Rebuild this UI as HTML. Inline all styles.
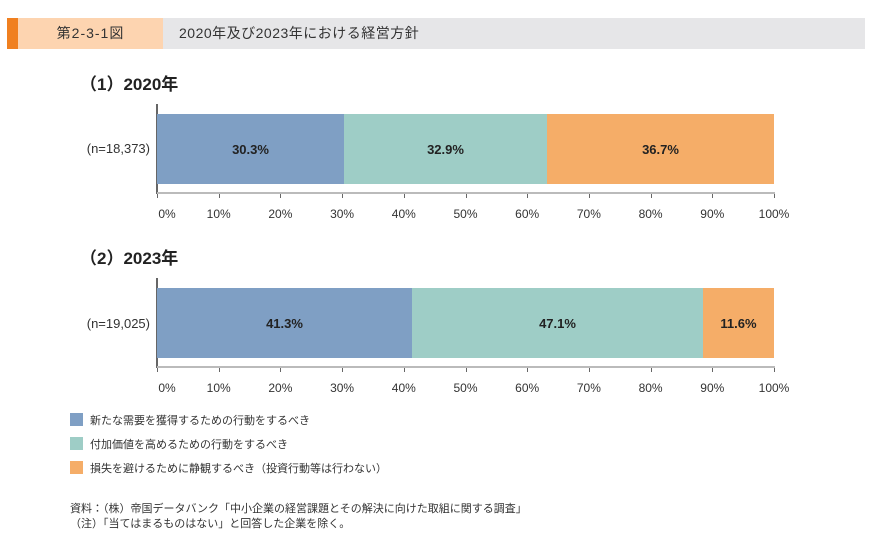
<!DOCTYPE html><html><head><meta charset="utf-8"><style>
body{margin:0;width:876px;height:553px;background:#fff;position:relative;font-family:"Liberation Sans","Noto Sans CJK JP",sans-serif;overflow:hidden}
.a{position:absolute}
.bar{position:absolute;height:70px;display:flex;align-items:center;justify-content:center;font-weight:bold;font-size:13px;color:#222}
.t{position:absolute;font-size:12px;color:#333;transform:translateX(-50%)}
.tk{position:absolute;width:1px;height:4px;background:#666}
.n{position:absolute;right:726px;font-size:13px;color:#333}
</style></head><body>
<div class="a" style="left:7px;top:18px;width:11px;height:31px;background:#f08020"></div>
<div class="a" style="left:18px;top:18px;width:145px;height:31px;background:#fdd4b0;font-size:14px;line-height:31px;text-align:center;color:#333;letter-spacing:1px">第2-3-1図</div>
<div class="a" style="left:163px;top:18px;width:702px;height:31px;background:#e6e6e8;font-size:14px;line-height:31px;color:#333;padding-left:16px;box-sizing:border-box;letter-spacing:0.5px">2020年及び2023年における経営方針</div>

<div class="a" style="left:80px;top:70px;font-size:17px;font-weight:bold;color:#222">（1）2020年</div>
<div class="n" style="top:141px">(n=18,373)</div>
<div class="a" style="left:156px;top:104px;width:2px;height:90px;background:#666"></div>
<div class="bar" style="left:157px;top:114px;width:187px;background:#7f9fc4">30.3%</div>
<div class="bar" style="left:344px;top:114px;width:203px;background:#9ecdc6">32.9%</div>
<div class="bar" style="left:547px;top:114px;width:227px;background:#f5ad68">36.7%</div>
<div class="a" style="left:157px;top:192px;width:618px;height:2px;background:#bbb"></div>

<div class="a" style="left:80px;top:244px;font-size:17px;font-weight:bold;color:#222">（2）2023年</div>
<div class="n" style="top:316px">(n=19,025)</div>
<div class="a" style="left:156px;top:278px;width:2px;height:90px;background:#666"></div>
<div class="bar" style="left:157px;top:288px;width:255px;background:#7f9fc4">41.3%</div>
<div class="bar" style="left:412px;top:288px;width:291px;background:#9ecdc6">47.1%</div>
<div class="bar" style="left:703px;top:288px;width:71px;background:#f5ad68">11.6%</div>
<div class="a" style="left:157px;top:366px;width:618px;height:2px;background:#bbb"></div>

<div id="ax"></div>
<script>
var h='';for(var k=0;k<2;k++){var y=k?368:194;for(var i=0;i<=10;i++){var x=157+i*61.7;h+='<div class="tk" style="left:'+x+'px;top:'+y+'px"></div><div class="t" style="left:'+(x+(i==0?10:0))+'px;top:'+(y+13)+'px">'+(i*10)+'%</div>';}}
document.getElementById('ax').innerHTML=h;
</script>

<div class="a" style="left:70px;top:413px;width:13px;height:13px;background:#7f9fc4"></div>
<div class="a" style="left:90px;top:412px;font-size:11px;color:#333">新たな需要を獲得するための行動をするべき</div>
<div class="a" style="left:70px;top:437px;width:13px;height:13px;background:#9ecdc6"></div>
<div class="a" style="left:90px;top:436px;font-size:11px;color:#333">付加価値を高めるための行動をするべき</div>
<div class="a" style="left:70px;top:461px;width:13px;height:13px;background:#f5ad68"></div>
<div class="a" style="left:90px;top:460px;font-size:11px;color:#333">損失を避けるために静観するべき（投資行動等は行わない）</div>

<div class="a" style="left:70px;top:500px;font-size:11px;color:#333">資料：（株）帝国データバンク「中小企業の経営課題とその解決に向けた取組に関する調査」</div>
<div class="a" style="left:70px;top:515px;font-size:11px;color:#333">（注）「当てはまるものはない」と回答した企業を除く。</div>
</body></html>
